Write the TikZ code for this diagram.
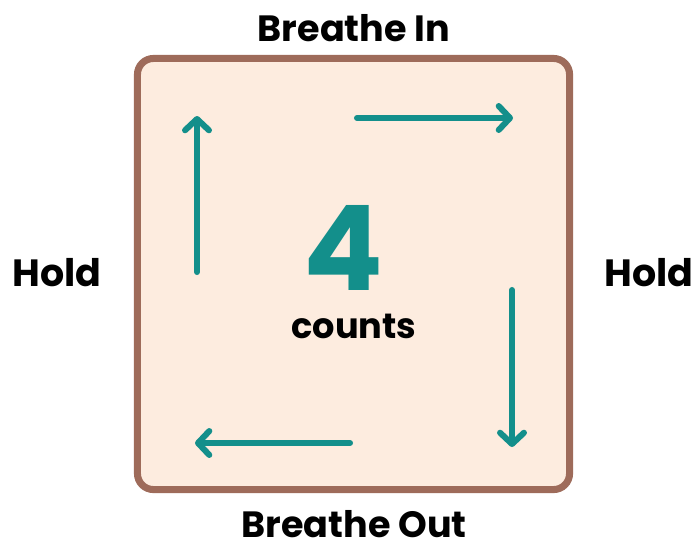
\documentclass[tikz,border=0pt]{standalone}
\usepackage{fontspec}
\setmainfont{Poppins}
\usetikzlibrary{arrows.meta}
\definecolor{boxedge}{HTML}{9E6B5A}
\definecolor{boxfill}{HTML}{FDECDF}
\definecolor{teal}{HTML}{138F8B}
\tikzset{
  square/.style={draw=boxedge, fill=boxfill, line width=5pt, rounded corners=0.4cm,
    minimum width=10.8cm, minimum height=10.775cm},
  phase/.style={inner sep=0pt, font=\fontsize{27}{30}\selectfont\bfseries},
  breath/.style={draw=teal, line width=4.3pt, line cap=round,
    -{Straight Barb[length=8pt, width=17pt, line cap=round, line join=round]}}
}
\begin{document}
\begin{tikzpicture}[x=0.025cm, y=-0.025cm]
  \useasboundingbox (0,0) rectangle (694,540);
  \node[square] (box) at (353.5,274) {};
  % labels round the square
  \node[phase, font=\fontsize{26}{30}\selectfont\bfseries] (in) at (354,28) {Breathe In};
  \node[phase, font=\fontsize{26}{30}\selectfont\bfseries] (out) at (354,524) {Breathe Out};
  \node[phase] (holdl) at (57,273) {Hold};
  \node[phase] (holdr) at (649,273) {Hold};
  % centre
  \node[inner sep=0pt, text=teal, font=\fontsize{84}{84}\selectfont\bfseries] (four) at (343,248) {4};
  \node[inner sep=0pt, font=\fontsize{25}{28}\selectfont\bfseries] (counts) at (354,326) {counts};
  % arrow ends
  \coordinate (u1) at (197,272);
  \coordinate (u2) at (197,116);
  \coordinate (r1) at (357,118);
  \coordinate (r2) at (513,118);
  \coordinate (d1) at (512,290);
  \coordinate (d2) at (512,447);
  \coordinate (l1) at (350,443);
  \coordinate (l2) at (195,443);
  \draw [breath] (u1) -- (u2);
  \draw [breath] (r1) -- (r2);
  \draw [breath] (d1) -- (d2);
  \draw [breath] (l1) -- (l2);
\end{tikzpicture}
\end{document}
